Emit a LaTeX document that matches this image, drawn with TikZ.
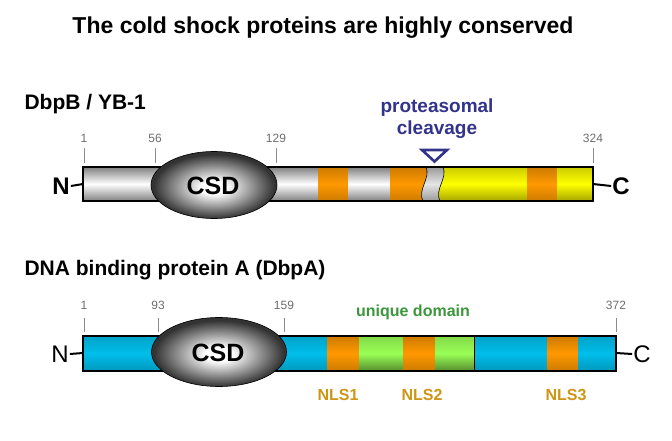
\documentclass[tikz,border=0pt]{standalone}
\usepackage{fontspec}
\setmainfont{Liberation Sans}
\usetikzlibrary{shapes.geometric}
\definecolor{orng}{RGB}{255,153,0}
\definecolor{yel}{RGB}{255,255,0}
\definecolor{cyn}{RGB}{0,190,235}
\definecolor{grn}{RGB}{153,255,85}
\definecolor{navyc}{RGB}{51,51,140}
\definecolor{ugreen}{RGB}{60,150,60}
\definecolor{nlsc}{RGB}{205,150,20}
\definecolor{numgray}{RGB}{110,110,110}
\pgfdeclareradialshading{csdshade}{\pgfpoint{0bp}{-2bp}}{color(0bp)=(white); color(5bp)=(white); color(24bp)=(black!80); color(50bp)=(black!80)}
\begin{document}
\begin{tikzpicture}[x=1pt,y=-1pt,
  fs/.style={font=\fontsize{#1}{#1}\selectfont},
  fsb/.style={font=\fontsize{#1}{#1}\selectfont\bfseries},
  segw/.style={top color=black!50, bottom color=black!50, middle color=white, draw=none},
  sego/.style={top color=orng!80!black, bottom color=orng!80!black, middle color=orng, draw=none},
  segy/.style={top color=yel!80!black, bottom color=yel!65!black, middle color=yel, draw=none},
  segg/.style={top color=black!40, bottom color=black!40, middle color=white!90!black, draw=none},
  segc/.style={top color=cyn!85!black, bottom color=cyn!80!black, middle color=cyn, draw=none},
  segn/.style={top color=grn!85!black, bottom color=grn!55!black, middle color=grn, draw=none},
  baredge/.style={draw=black, line width=1.1pt},
  tick/.style={draw=numgray!80, line width=1pt},
  num/.style={fs=12, text=numgray, inner sep=0pt},
  csd/.style={ellipse, draw=black, line width=0.6pt, shading=csdshade, minimum width=#1, inner sep=0pt},
  term/.style={line width=2pt, draw=black},
]
\useasboundingbox[fill=white] (0,0) rectangle (672,441);

% Title
\node[fsb=23] (title) at (323,28) {The cold shock proteins are highly conserved};

% ---------------- DbpB / YB-1 ----------------
\node[fsb=21, anchor=west] (lab1) at (21,104) {DbpB / YB-1};

\path[segw] (83,167) rectangle (318,201);
\path[sego] (318,167) rectangle (348,201);
\path[segw] (348,167) rectangle (390,201);
\path[sego] (390,167) -- (426,167) .. controls (431,178) and (417,190) .. (423,201) -- (390,201) -- cycle;
\path[segg] (426,167) .. controls (431,178) and (417,190) .. (423,201) -- (440,201) .. controls (434,190) and (448,178) .. (443,167) -- cycle;
\path[segy] (443,167) .. controls (448,178) and (434,190) .. (440,201) -- (527,201) -- (527,167) -- cycle;
\path[sego] (527,167) rectangle (557,201);
\path[segy] (557,167) rectangle (593,201);
\draw[line width=0.6pt] (426,167) .. controls (431,178) and (417,190) .. (423,201);
\draw[line width=0.6pt] (443,167) .. controls (448,178) and (434,190) .. (440,201);
\draw[baredge] (83,167) rectangle (593,201);
\coordinate (b1L) at (83,184);
\coordinate (b1R) at (593,184);

\node[csd=126pt, minimum height=67pt] (csd1) at (214,185) {};
\node[fsb=25] (csdt1) at (213,186) {CSD};

\draw[tick] (84,148) -- (84,163);
\draw[tick] (155,148) -- (155,163);
\draw[tick] (276,148) -- (276,163);
\draw[tick] (593,148) -- (593,163);
\node[num] (n1a) at (84,138) {1};
\node[num] (n1b) at (155,138) {56};
\node[num] (n1c) at (276,138) {129};
\node[num] (n1d) at (593,138) {324};

\node[fsb=24, inner sep=1pt] (N1) at (61,186) {N};
\node[fsb=24, inner sep=1pt] (C1) at (621,186) {C};
\draw[term] (N1.east) -- (b1L);
\draw[term] (b1R) -- (C1.west);

\node[font=\fontsize{19}{22}\selectfont\bfseries, text=navyc, align=center] (prot) at (437,119) {proteasomal\\cleavage};
\draw[draw=navyc, fill=white, line width=2.6pt, line join=miter] (422,150) -- (447,150) -- (434.5,161.5) -- cycle;

% ---------------- DbpA ----------------
\node[fsb=21, anchor=west] (lab2) at (21,270) {DNA binding protein A (DbpA)};

\path[segc] (83,336) rectangle (327,371);
\path[sego] (327,336) rectangle (359,371);
\path[segn] (359,336) rectangle (403,371);
\path[sego] (403,336) rectangle (435,371);
\path[segn] (435,336) rectangle (474,371);
\path[segc] (474,336) rectangle (547,371);
\path[sego] (547,336) rectangle (578,371);
\path[segc] (578,336) rectangle (616,371);
\draw[line width=0.6pt] (474,336) -- (474,371);
\draw[baredge] (83,336) rectangle (616,371);
\coordinate (b2L) at (83,353);
\coordinate (b2R) at (616,353);

\node[csd=135pt, minimum height=69pt] (csd2) at (219,352) {};
\node[fsb=25] (csdt2) at (218,353) {CSD};

\draw[tick] (84,318) -- (84,332);
\draw[tick] (158,318) -- (158,332);
\draw[tick] (284,318) -- (284,332);
\draw[tick] (616,318) -- (616,332);
\node[num] (n2a) at (84,305) {1};
\node[num] (n2b) at (158,305) {93};
\node[num] (n2c) at (284,305) {159};
\node[num] (n2d) at (616,305) {372};

\node[fs=24, inner sep=1pt] (N2) at (60,354) {N};
\node[fs=24, inner sep=1pt] (C2) at (642,354) {C};
\draw[term] (N2.east) -- (b2L);
\draw[term] (b2R) -- (C2.west);

\node[fsb=16, text=ugreen] (uniq) at (413,312) {unique domain};
\node[fsb=16, text=nlsc] (nls1) at (338,395) {NLS1};
\node[fsb=16, text=nlsc] (nls2) at (422,395) {NLS2};
\node[fsb=16, text=nlsc] (nls3) at (566,395) {NLS3};
\end{tikzpicture}
\end{document}
